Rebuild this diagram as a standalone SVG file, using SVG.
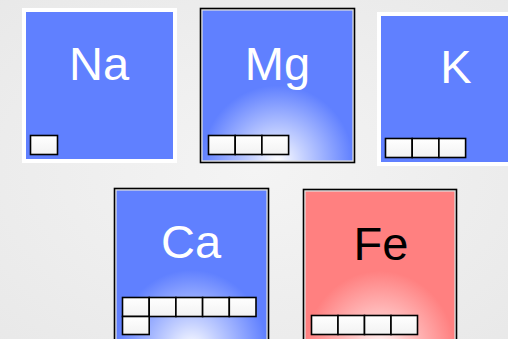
<svg xmlns="http://www.w3.org/2000/svg" width="508" height="339" viewBox="0 0 508 339">
<defs>
<radialGradient id="bg" cx="0.5" cy="0.5" r="0.75">
<stop offset="0" stop-color="#f4f4f4"/>
<stop offset="1" stop-color="#e8e8e8"/>
</radialGradient>
<radialGradient id="gBlue" cx="0.5" cy="1" r="0.5">
<stop offset="0" stop-color="#ffffff"/>
<stop offset="0.35" stop-color="#c4d0ff"/>
<stop offset="1" stop-color="#6080ff"/>
</radialGradient>
<radialGradient id="gRed" cx="0.5" cy="1" r="0.5">
<stop offset="0" stop-color="#ffffff"/>
<stop offset="0.35" stop-color="#ffcaca"/>
<stop offset="1" stop-color="#ff8080"/>
</radialGradient>
<linearGradient id="cell" x1="0" y1="0" x2="0" y2="1">
<stop offset="0" stop-color="#ffffff"/>
<stop offset="1" stop-color="#f2f2f2"/>
</linearGradient>
</defs>
<style>
.lbl{font-family:"Liberation Sans",Arial,sans-serif;font-size:47px;text-anchor:middle}
.wt{fill:#ffffff}
.bk{fill:#000000}
.cell{fill:url(#cell);stroke:#000;stroke-width:1.6}
.frame{fill:none;stroke:#000;stroke-width:1.6}
</style>
<rect x="0" y="0" width="508" height="339" fill="url(#bg)"/>
<g id="Na">
<rect x="24" y="10" width="151" height="151" fill="#6080ff" stroke="#ffffff" stroke-width="4"/>
<text class="lbl wt" x="99" y="80">Na</text>
<rect class="cell" x="30.5" y="135.5" width="27" height="19"/>
</g>
<g id="Mg">
<rect x="202" y="10" width="151" height="151" fill="url(#gBlue)" stroke="#e0e0e0" stroke-width="1.2"/>
<rect class="frame" x="200.5" y="8.5" width="154" height="154"/>
<text class="lbl wt" x="277.5" y="80">Mg</text>
<rect class="cell" x="208.5" y="135.5" width="26.7" height="19"/>
<rect class="cell" x="235.2" y="135.5" width="26.7" height="19"/>
<rect class="cell" x="261.9" y="135.5" width="26.7" height="19"/>
</g>
<g id="K">
<rect x="379" y="14" width="151" height="150" fill="#6080ff" stroke="#ffffff" stroke-width="4"/>
<text class="lbl wt" x="456" y="83">K</text>
<rect class="cell" x="385.5" y="138.5" width="26.7" height="19"/>
<rect class="cell" x="412.2" y="138.5" width="26.7" height="19"/>
<rect class="cell" x="438.9" y="138.5" width="26.7" height="19"/>
</g>
<g id="Ca">
<rect x="116" y="190" width="151" height="160" fill="url(#gBlue)" stroke="#e0e0e0" stroke-width="1.2"/>
<rect class="frame" x="114.5" y="188.5" width="154" height="165"/>
<text class="lbl wt" x="191" y="258">Ca</text>
<rect class="cell" x="122.5" y="297.5" width="26.7" height="19"/>
<rect class="cell" x="149.2" y="297.5" width="26.7" height="19"/>
<rect class="cell" x="175.9" y="297.5" width="26.7" height="19"/>
<rect class="cell" x="202.6" y="297.5" width="26.7" height="19"/>
<rect class="cell" x="229.3" y="297.5" width="26.7" height="19"/>
<rect class="cell" x="122.5" y="316.5" width="26.7" height="18"/>
</g>
<g id="Fe">
<rect x="305" y="191" width="150" height="160" fill="url(#gRed)" stroke="#e0e0e0" stroke-width="1.2"/>
<rect class="frame" x="303.5" y="189.5" width="153" height="165"/>
<text class="lbl bk" x="381" y="260">Fe</text>
<rect class="cell" x="311.5" y="315.5" width="26.5" height="19"/>
<rect class="cell" x="338" y="315.5" width="26.5" height="19"/>
<rect class="cell" x="364.5" y="315.5" width="26.5" height="19"/>
<rect class="cell" x="391" y="315.5" width="26.5" height="19"/>
</g>
<g id="connectors"/>
</svg>
